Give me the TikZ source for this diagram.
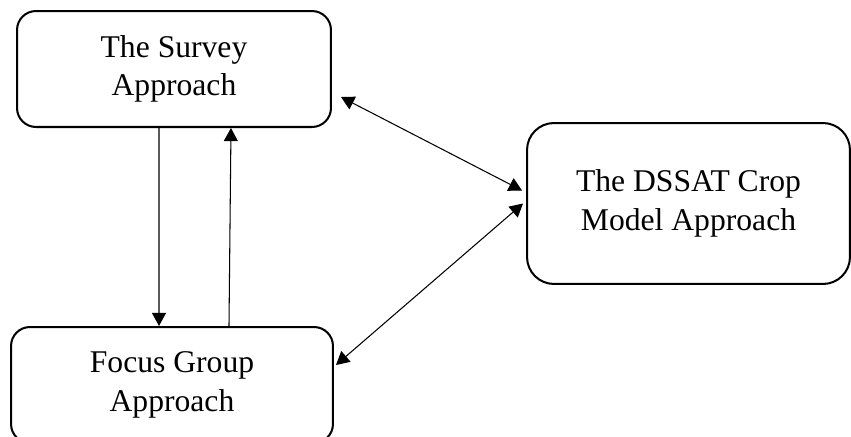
\documentclass[tikz,border=0pt]{standalone}
\usepackage{fontspec}
\setmainfont{Liberation Serif}
\usepackage{xcolor}
\usepackage{tikz}
\usetikzlibrary{arrows.meta, positioning, calc}
\definecolor{boxline}{HTML}{000000}

\tikzset{
    box/.style={draw=boxline, line width=1.15pt, rounded corners=0.38cm, align=center,
        inner sep=0pt, font=\fontsize{18}{22}\selectfont},
    link/.style={line width=0.6pt, -{Triangle[length=7.5pt,width=8pt]}},
    twolink/.style={line width=0.6pt, {Triangle[length=7.5pt,width=8pt]}-{Triangle[length=7.5pt,width=8pt]}}
}

\begin{document}
\begin{tikzpicture}[x=0.02cm, y=-0.02cm]
    % Page frame
    \useasboundingbox (0,0) rectangle (851,436);
    % Approach boxes
    \node[box, minimum width=6.28cm, minimum height=2.32cm] (survey) at (174,69) {The Survey\\Approach};
    \node[box, minimum width=6.44cm, minimum height=2.32cm] (focus) at (172,385) {Focus Group\\Approach};
    \node[box, rounded corners=0.54cm, minimum width=6.46cm, minimum height=3.22cm] (dssat) at (688.5,203.5) {The DSSAT Crop\\Model Approach};
    % Survey <-> focus group
    \draw[link] ([xshift=-0.3cm]survey.south) -- ([xshift=-0.26cm]focus.north);
    \draw[link] ([xshift=1.14cm]focus.north) -- ([xshift=1.14cm]survey.south);
    % Links to the crop model
    \draw[twolink] ([shift={(9,28)}]survey.east) -- ([shift={(-4,-13)}]dssat.west);
    \draw[twolink] ([shift={(2,-20)}]focus.east) -- ([shift={(-3,0)}]dssat.west);
\end{tikzpicture}
\end{document}
